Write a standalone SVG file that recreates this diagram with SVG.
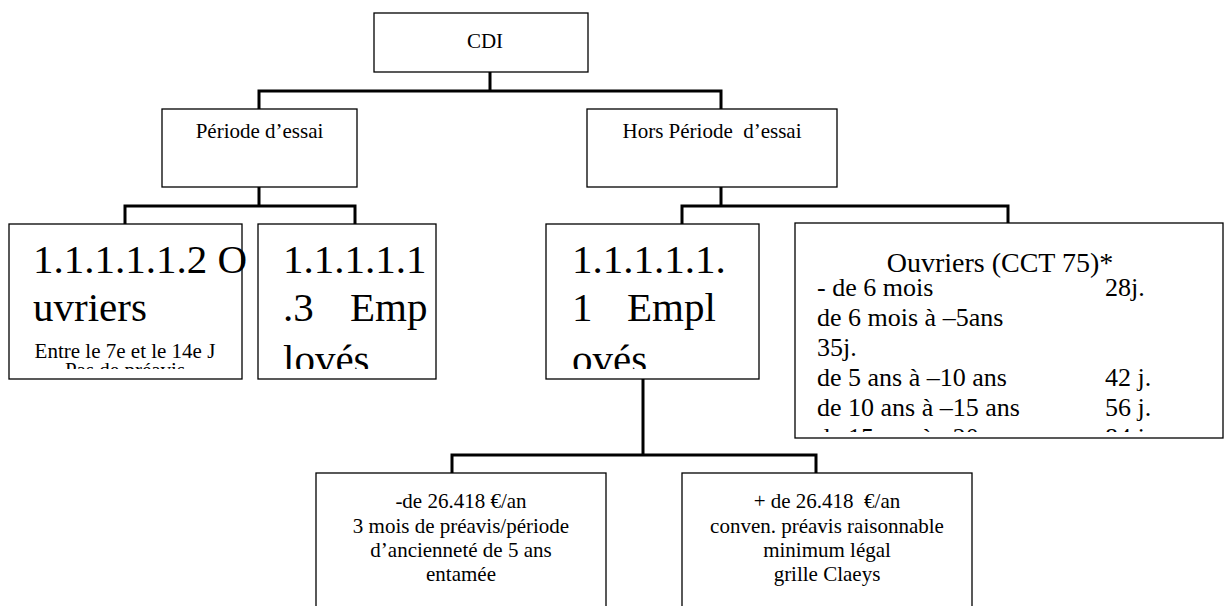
<svg xmlns="http://www.w3.org/2000/svg" width="1229" height="606" viewBox="0 0 1229 606">
<style>
.box{fill:#fff;stroke:#000;stroke-width:1.3}
.con{fill:none;stroke:#000;stroke-width:3;stroke-linecap:square}
text{font-family:"Liberation Serif","Times New Roman",serif;fill:#000}
.s{font-size:21px}
.big{font-size:41px}
.mid{font-size:26px}
.c{text-anchor:middle}
</style>
<defs>
<clipPath id="cA"><rect x="0" y="224" width="256" height="145"/></clipPath>
<clipPath id="cB"><rect x="258" y="224" width="178" height="145"/></clipPath>
<clipPath id="cE"><rect x="546" y="224" width="213" height="145"/></clipPath>
<clipPath id="cO"><rect x="795" y="223" width="428" height="209"/></clipPath>
</defs>
<rect width="1229" height="606" fill="#fff"/>
<g id="connectors">
<path class="con" d="M490 72V91M259 109V91H721V109"/>
<path class="con" d="M259 187V206M125 224V206H355V224"/>
<path class="con" d="M721 187V206M682 224V206H1008V223"/>
<path class="con" d="M643 379V455M452 473V455H816V473"/>
</g>
<g id="cdi">
<rect class="box" x="374" y="13" width="214" height="59"/>
<text class="s c" x="485" y="48">CDI</text>
</g>
<g id="periode">
<rect class="box" x="162" y="109" width="195" height="78"/>
<text class="s c" x="259.5" y="138">Période d’essai</text>
</g>
<g id="hors">
<rect class="box" x="587" y="109" width="250" height="78"/>
<text class="s c" x="712" y="138" xml:space="preserve">Hors Période  d’essai</text>
</g>
<g id="ouvriers-essai">
<rect class="box" x="9" y="224" width="233" height="155"/>
<g clip-path="url(#cA)">
<text class="big" x="33" y="273">1.1.1.1.1.2 O</text>
<text class="big" x="33" y="321">uvriers</text>
<text class="s c" x="125" y="358">Entre le 7e et le 14e J</text>
<text class="s c" x="125" y="377">Pas de préavis</text>
</g>
</g>
<g id="employes-essai">
<rect class="box" x="258" y="224" width="178" height="155"/>
<g clip-path="url(#cB)">
<text class="big" x="283" y="273">1.1.1.1.1</text>
<text class="big" x="283" y="321">.3</text>
<text class="big" x="350" y="321">Emp</text>
<text class="big" x="283" y="373">lovés</text>
</g>
</g>
<g id="employes">
<rect class="box" x="546" y="224" width="213" height="155"/>
<g clip-path="url(#cE)">
<text class="big" x="572" y="273">1.1.1.1.1.</text>
<text class="big" x="572" y="321">1</text>
<text class="big" x="627" y="321">Empl</text>
<text class="big" x="572" y="373">ovés</text>
</g>
</g>
<g id="ouvriers">
<rect class="box" x="795" y="223" width="428" height="215"/>
<g clip-path="url(#cO)">
<text class="c" x="1000" y="272" font-size="28">Ouvriers (CCT 75)*</text>
<g class="mid">
<text x="817" y="296">- de 6 mois</text><text x="1105" y="296">28j.</text>
<text x="817" y="326">de 6 mois à –5ans</text>
<text x="817" y="356">35j.</text>
<text x="817" y="386">de 5 ans à –10 ans</text><text x="1105" y="386">42 j.</text>
<text x="817" y="416">de 10 ans à –15 ans</text><text x="1105" y="416">56 j.</text>
<text x="817" y="446">de 15 ans à –20 ans</text><text x="1105" y="446">84 j.</text>
</g>
</g>
</g>
<g id="moins">
<rect class="box" x="316" y="473" width="290" height="150"/>
<text class="s c" x="461" y="508">-de 26.418 €/an</text>
<text class="s c" x="461" y="533">3 mois de préavis/période</text>
<text class="s c" x="461" y="557">d’ancienneté de 5 ans</text>
<text class="s c" x="461" y="581">entamée</text>
</g>
<g id="plus">
<rect class="box" x="682" y="473" width="290" height="150"/>
<text class="s c" x="827" y="508" xml:space="preserve">+ de 26.418  €/an</text>
<text class="s c" x="827" y="533">conven. préavis raisonnable</text>
<text class="s c" x="827" y="557">minimum légal</text>
<text class="s c" x="827" y="581">grille Claeys</text>
</g>
</svg>
